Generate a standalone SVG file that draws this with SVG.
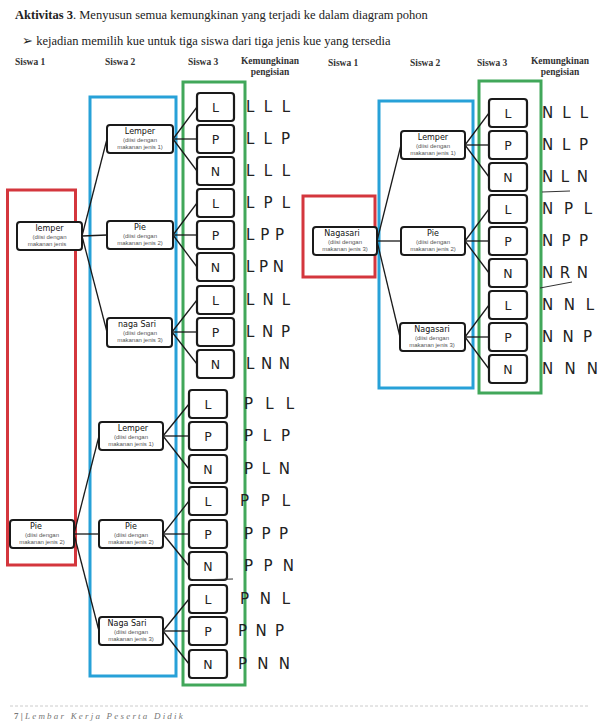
<svg xmlns="http://www.w3.org/2000/svg" width="600" height="725" viewBox="0 0 600 725">
<style>
  .title{font-family:"Liberation Serif",serif;font-size:12.5px;fill:#222}
  .hdr{font-family:"Liberation Serif",serif;font-size:9.5px;font-weight:bold;fill:#333}
  .red{fill:none;stroke:#d4363d;stroke-width:3}
  .blue{fill:none;stroke:#27a1d8;stroke-width:3}
  .green{fill:none;stroke:#41a75a;stroke-width:3}
  .node{fill:#fff;stroke:#1a1a1a;stroke-width:2}
  .leaf{fill:#fff;stroke:#1a1a1a;stroke-width:2.2}
  .nm{font-family:"DejaVu Sans",sans-serif;font-size:8px;fill:#111;text-anchor:middle}
  .sm{font-family:"Liberation Sans",sans-serif;font-size:6px;fill:#555;text-anchor:middle}
  .lt{font-family:"DejaVu Sans",sans-serif;font-size:12.5px;fill:#222;text-anchor:middle}
  .out{font-family:"DejaVu Sans",sans-serif;font-size:15px;fill:#222}
  .con line{stroke:#1a1a1a;stroke-width:1.3}
  .pen{stroke:#333;stroke-width:1;fill:none}
  .foot{font-family:"Liberation Serif",serif;font-size:9px;font-style:italic;fill:#777;letter-spacing:2.2px}
</style>
<rect width="600" height="725" fill="#fff"/>

<!-- header -->
<text class="title" x="15" y="19"><tspan font-weight="bold">Aktivitas 3</tspan>. Menyusun semua kemungkinan yang terjadi ke dalam diagram pohon</text>
<text class="title" x="22" y="45" font-size="12">➢ kejadian memilih kue untuk tiga siswa dari tiga jenis kue yang tersedia</text>
<text class="hdr" x="15" y="65">Siswa 1</text>
<text class="hdr" x="105" y="65">Siswa 2</text>
<text class="hdr" x="188" y="65">Siswa 3</text>
<text class="hdr" x="270" y="64" text-anchor="middle">Kemungkinan</text>
<text class="hdr" x="270" y="75" text-anchor="middle">pengisian</text>
<text class="hdr" x="328" y="66">Siswa 1</text>
<text class="hdr" x="410" y="66">Siswa 2</text>
<text class="hdr" x="477" y="66">Siswa 3</text>
<text class="hdr" x="560" y="64" text-anchor="middle">Kemungkinan</text>
<text class="hdr" x="560" y="75" text-anchor="middle">pengisian</text>

<!-- coloured frames -->
<g id="frames">
  <rect class="red" x="7.5" y="190" width="68" height="375"/>
  <rect class="blue" x="90" y="97" width="86" height="579"/>
  <rect class="green" x="183" y="82" width="62" height="603"/>
  <rect class="red" x="303" y="196" width="72" height="81"/>
  <rect class="blue" x="379" y="101" width="94" height="287"/>
  <rect class="green" x="479" y="81" width="62" height="312"/>
</g>

<!-- connectors -->
<g id="connectors" class="con">
  <line x1="82" y1="236" x2="107" y2="139"/>
  <line x1="82" y1="236" x2="107" y2="235"/>
  <line x1="82" y1="236" x2="107" y2="332"/>
  <line x1="74" y1="534" x2="99" y2="436"/>
  <line x1="74" y1="534" x2="99" y2="534"/>
  <line x1="74" y1="534" x2="99" y2="631"/>
  <line x1="173" y1="139" x2="197" y2="107"/>
  <line x1="173" y1="139" x2="197" y2="139"/>
  <line x1="173" y1="139" x2="197" y2="171"/>
  <line x1="173" y1="235" x2="197" y2="203"/>
  <line x1="173" y1="235" x2="197" y2="235"/>
  <line x1="173" y1="235" x2="197" y2="267"/>
  <line x1="172" y1="332" x2="197" y2="300"/>
  <line x1="172" y1="332" x2="197" y2="332"/>
  <line x1="172" y1="332" x2="197" y2="364"/>
  <line x1="163" y1="436" x2="189" y2="404"/>
  <line x1="163" y1="436" x2="189" y2="436"/>
  <line x1="163" y1="436" x2="189" y2="469"/>
  <line x1="163" y1="534" x2="189" y2="501"/>
  <line x1="163" y1="534" x2="189" y2="534"/>
  <line x1="163" y1="534" x2="189" y2="566"/>
  <line x1="163" y1="631" x2="189" y2="599"/>
  <line x1="163" y1="631" x2="189" y2="631"/>
  <line x1="163" y1="631" x2="189" y2="664"/>
  <line x1="377" y1="241" x2="401" y2="145"/>
  <line x1="377" y1="241" x2="401" y2="241"/>
  <line x1="377" y1="241" x2="400" y2="337"/>
  <line x1="465" y1="145" x2="489" y2="113"/>
  <line x1="465" y1="145" x2="489" y2="145"/>
  <line x1="465" y1="145" x2="489" y2="177"/>
  <line x1="465" y1="241" x2="489" y2="209"/>
  <line x1="465" y1="241" x2="489" y2="241"/>
  <line x1="465" y1="241" x2="489" y2="273"/>
  <line x1="465" y1="337" x2="489" y2="305"/>
  <line x1="465" y1="337" x2="489" y2="337"/>
  <line x1="465" y1="337" x2="489" y2="369"/>
</g>

<!-- Siswa 1 -->
<g id="s1-lemper"><rect class="node" x="17" y="222" width="65" height="28" rx="3"/>
  <text class="nm" x="49.5" y="231">lemper</text><text class="sm" x="49.5" y="239">(diisi dengan</text><text class="sm" x="47" y="246">makanan jenis</text></g>
<g id="s1-pie"><rect class="node" x="10" y="520" width="64" height="28" rx="3"/>
  <text class="nm" x="36" y="529">Pie</text><text class="sm" x="42" y="537">(diisi dengan</text><text class="sm" x="42" y="544">makanan jenis 2)</text></g>
<g id="s1-nagasari"><rect class="node" x="313" y="227" width="64" height="28" rx="3"/>
  <text class="nm" x="342" y="236">Nagasari</text><text class="sm" x="345" y="244">(diisi dengan</text><text class="sm" x="345" y="251">makanan jenis 3)</text></g>

<!-- Siswa 2 -->
<g id="s2-a1"><rect class="node" x="107" y="125" width="66" height="28" rx="3"/>
  <text class="nm" x="140" y="134">Lemper</text><text class="sm" x="140" y="142">(diisi dengan</text><text class="sm" x="140" y="149">makanan jenis 1)</text></g>
<g id="s2-a2"><rect class="node" x="107" y="221" width="66" height="28" rx="3"/>
  <text class="nm" x="140" y="230">Pie</text><text class="sm" x="140" y="238">(diisi dengan</text><text class="sm" x="140" y="245">makanan jenis 2)</text></g>
<g id="s2-a3"><rect class="node" x="107" y="318" width="65" height="29" rx="3"/>
  <text class="nm" x="137" y="327">naga Sari</text><text class="sm" x="140" y="335">(diisi dengan</text><text class="sm" x="140" y="342">makanan jenis 3)</text></g>
<g id="s2-b1"><rect class="node" x="99" y="422" width="64" height="28" rx="3"/>
  <text class="nm" x="133" y="431">Lemper</text><text class="sm" x="131" y="439">(diisi dengan</text><text class="sm" x="131" y="446">makanan jenis 1)</text></g>
<g id="s2-b2"><rect class="node" x="99" y="520" width="64" height="28" rx="3"/>
  <text class="nm" x="131" y="529">Pie</text><text class="sm" x="131" y="537">(diisi dengan</text><text class="sm" x="131" y="544">makanan jenis 2)</text></g>
<g id="s2-b3"><rect class="node" x="99" y="617" width="64" height="28" rx="3"/>
  <text class="nm" x="127" y="626">Naga Sari</text><text class="sm" x="131" y="634">(diisi dengan</text><text class="sm" x="131" y="641">makanan jenis 3)</text></g>
<g id="s2-c1"><rect class="node" x="401" y="131" width="64" height="28" rx="3"/>
  <text class="nm" x="433" y="140">Lemper</text><text class="sm" x="433" y="148">(diisi dengan</text><text class="sm" x="433" y="155">makanan jenis 1)</text></g>
<g id="s2-c2"><rect class="node" x="401" y="227" width="64" height="28" rx="3"/>
  <text class="nm" x="433" y="236">Pie</text><text class="sm" x="433" y="244">(diisi dengan</text><text class="sm" x="433" y="251">makanan jenis 2)</text></g>
<g id="s2-c3"><rect class="node" x="400" y="323" width="65" height="28" rx="3"/>
  <text class="nm" x="432" y="332">Nagasari</text><text class="sm" x="432" y="340">(diisi dengan</text><text class="sm" x="432" y="347">makanan jenis 3)</text></g>

<!-- Siswa 3 leaves, left top group -->
<g id="s3-1"><rect class="leaf" x="197" y="93" width="37" height="28" rx="3"/><text class="lt" x="215.5" y="111.5">L</text></g>
<g id="s3-2"><rect class="leaf" x="197" y="125" width="37" height="28" rx="3"/><text class="lt" x="215.5" y="143.5">P</text></g>
<g id="s3-3"><rect class="leaf" x="197" y="157" width="37" height="28" rx="3"/><text class="lt" x="215.5" y="175.5">N</text></g>
<g id="s3-4"><rect class="leaf" x="197" y="189" width="37" height="28" rx="3"/><text class="lt" x="215.5" y="207.5">L</text></g>
<g id="s3-5"><rect class="leaf" x="197" y="221" width="37" height="28" rx="3"/><text class="lt" x="215.5" y="239.5">P</text></g>
<g id="s3-6"><rect class="leaf" x="197" y="253" width="37" height="28" rx="3"/><text class="lt" x="215.5" y="271.5">N</text></g>
<g id="s3-7"><rect class="leaf" x="197" y="286" width="37" height="28" rx="3"/><text class="lt" x="215.5" y="304.5">L</text></g>
<g id="s3-8"><rect class="leaf" x="197" y="318" width="37" height="28" rx="3"/><text class="lt" x="215.5" y="336.5">P</text></g>
<g id="s3-9"><rect class="leaf" x="197" y="350" width="37" height="28" rx="3"/><text class="lt" x="215.5" y="368.5">N</text></g>
<!-- left bottom group -->
<g id="s3-10"><rect class="leaf" x="189" y="390" width="38" height="28" rx="3"/><text class="lt" x="208" y="408.5">L</text></g>
<g id="s3-11"><rect class="leaf" x="189" y="422" width="38" height="28" rx="3"/><text class="lt" x="208" y="440.5">P</text></g>
<g id="s3-12"><rect class="leaf" x="189" y="455" width="38" height="28" rx="3"/><text class="lt" x="208" y="473.5">N</text></g>
<g id="s3-13"><rect class="leaf" x="189" y="487" width="38" height="28" rx="3"/><text class="lt" x="208" y="505.5">L</text></g>
<g id="s3-14"><rect class="leaf" x="189" y="520" width="38" height="28" rx="3"/><text class="lt" x="208" y="538.5">P</text></g>
<g id="s3-15"><rect class="leaf" x="189" y="552" width="38" height="28" rx="3"/><text class="lt" x="208" y="570.5">N</text></g>
<g id="s3-16"><rect class="leaf" x="189" y="585" width="38" height="28" rx="3"/><text class="lt" x="208" y="603.5">L</text></g>
<g id="s3-17"><rect class="leaf" x="189" y="617" width="38" height="28" rx="3"/><text class="lt" x="208" y="635.5">P</text></g>
<g id="s3-18"><rect class="leaf" x="189" y="650" width="38" height="28" rx="3"/><text class="lt" x="208" y="668.5">N</text></g>
<!-- right group -->
<g id="s3-19"><rect class="leaf" x="489" y="99" width="38" height="28" rx="3"/><text class="lt" x="508" y="117.5">L</text></g>
<g id="s3-20"><rect class="leaf" x="489" y="131" width="38" height="28" rx="3"/><text class="lt" x="508" y="149.5">P</text></g>
<g id="s3-21"><rect class="leaf" x="489" y="163" width="38" height="28" rx="3"/><text class="lt" x="508" y="181.5">N</text></g>
<g id="s3-22"><rect class="leaf" x="489" y="195" width="38" height="28" rx="3"/><text class="lt" x="508" y="213.5">L</text></g>
<g id="s3-23"><rect class="leaf" x="489" y="227" width="38" height="28" rx="3"/><text class="lt" x="508" y="245.5">P</text></g>
<g id="s3-24"><rect class="leaf" x="489" y="259" width="38" height="28" rx="3"/><text class="lt" x="508" y="277.5">N</text></g>
<g id="s3-25"><rect class="leaf" x="489" y="291" width="38" height="28" rx="3"/><text class="lt" x="508" y="309.5">L</text></g>
<g id="s3-26"><rect class="leaf" x="489" y="323" width="38" height="28" rx="3"/><text class="lt" x="508" y="341.5">P</text></g>
<g id="s3-27"><rect class="leaf" x="489" y="355" width="38" height="28" rx="3"/><text class="lt" x="508" y="373.5">N</text></g>

<!-- outcomes -->
<g id="outcomes">
  <text class="out" x="246" y="112" textLength="44">L L L</text>
  <text class="out" x="246" y="144" textLength="44">L L P</text>
  <text class="out" x="246" y="176" textLength="44">L L L</text>
  <text class="out" x="246" y="208" textLength="44">L P L</text>
  <text class="out" x="246" y="240" textLength="38">L P P</text>
  <text class="out" x="246" y="272" textLength="38">L P N</text>
  <text class="out" x="246" y="305" textLength="44">L N L</text>
  <text class="out" x="246" y="337" textLength="44">L N P</text>
  <text class="out" x="246" y="369" textLength="44">L N N</text>
  <text class="out" x="244" y="409" textLength="50">P L L</text>
  <text class="out" x="244" y="441" textLength="46">P L P</text>
  <text class="out" x="244" y="474" textLength="46">P L N</text>
  <text class="out" x="240" y="506" textLength="50">P P L</text>
  <text class="out" x="244" y="539" textLength="44">P P P</text>
  <text class="out" x="244" y="571" textLength="50">P P N</text>
  <text class="out" x="240" y="604" textLength="50">P N L</text>
  <text class="out" x="238" y="636" textLength="46">P N P</text>
  <text class="out" x="238" y="669" textLength="52">P N N</text>
  <text class="out" x="542" y="118" textLength="46">N L L</text>
  <text class="out" x="542" y="150" textLength="46">N L P</text>
  <text class="out" x="542" y="182" textLength="46">N L N</text>
  <text class="out" x="542" y="214" textLength="50">N P L</text>
  <text class="out" x="542" y="246" textLength="46">N P P</text>
  <text class="out" x="542" y="278" textLength="46">N R N</text>
  <text class="out" x="542" y="310" textLength="52">N N L</text>
  <text class="out" x="542" y="342" textLength="50">N N P</text>
  <text class="out" x="542" y="374" textLength="56">N N N</text>
</g>

<!-- pen strokes -->
<path class="pen" d="M193 580 L233 579"/>
<path class="pen" d="M542 192 L570 191"/>
<path class="pen" d="M540 288 L572 282"/>

<!-- footer -->
<line x1="10" y1="706" x2="590" y2="706" stroke="#ccc" stroke-width="1" stroke-dasharray="3,2"/>
<text class="foot" x="14" y="719"><tspan font-style="normal" font-weight="bold" letter-spacing="0">7 | </tspan>Lembar Kerja Peserta Didik</text>
</svg>
